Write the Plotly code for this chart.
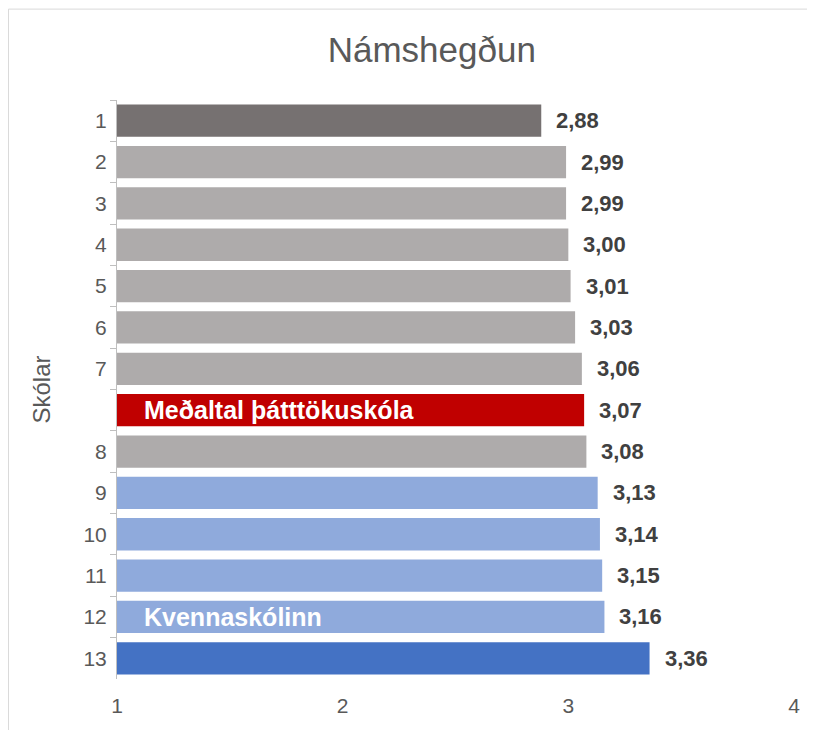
import plotly.graph_objects as go

categories = ["1", "2", "3", "4", "5", "6", "7", " ", "8", "9", "10", "11", "12", "13"]
values = [2.88, 2.99, 2.99, 3.00, 3.01, 3.03, 3.06, 3.07, 3.08, 3.13, 3.14, 3.15, 3.16, 3.36]
colors = ["#767171"] + ["#AEABAB"] * 6 + ["#C00000", "#AEABAB"] + ["#8FAADC"] * 4 + ["#4472C4"]
inner_labels = {7: "Meðaltal þátttökuskóla", 12: "Kvennaskólinn"}
x_ticks = [1, 2, 3, 4]

fig = go.Figure()
fig.add_trace(go.Bar(
    y=categories, x=values, orientation="h",
    marker=dict(color=colors, line=dict(width=0)),
    width=0.78, hoverinfo="skip",
))

font_family = "Liberation Sans, Arial, sans-serif"
ann = []
for i, v in enumerate(values):
    ann.append(dict(x=v, y=i, xref="x", yref="y", text="<b>" + f"{v:.2f}".replace(".", ",") + "</b>",
                    showarrow=False, xanchor="left", xshift=13,
                    font=dict(family=font_family, size=22, color="#404040")))
for i, t in inner_labels.items():
    ann.append(dict(x=1, y=i, xref="x", yref="y", text=f"<b>{t}</b>",
                    showarrow=False, xanchor="left", xshift=25,
                    font=dict(family=font_family, size=25, color="#FFFFFF")))

fig.update_layout(
    width=815, height=730,
    margin=dict(l=109, r=29, t=92, b=59, autoexpand=False),
    paper_bgcolor="white", plot_bgcolor="white",
    title=dict(text="Námshegðun", x=0.52, xanchor="center", y=0.943, yanchor="middle",
               font=dict(family=font_family, size=35, color="#595959")),
    showlegend=False,
    annotations=ann,
    shapes=[dict(type="rect", xref="paper", yref="paper", x0=-0.1603, x1=1.06, y0=-0.12, y1=1.157,
                 line=dict(color="#D9D9D9", width=1), fillcolor="rgba(0,0,0,0)", layer="below")],
    xaxis=dict(range=[1, 4], tickvals=x_ticks, ticktext=[str(t) for t in x_ticks],
               showgrid=False, zeroline=False, showline=False, ticks="", automargin=False,
               ticklabelstandoff=12,
               tickfont=dict(family=font_family, size=21, color="#595959")),
    yaxis=dict(categoryorder="array", categoryarray=categories, autorange="reversed",
               showgrid=False, zeroline=False, showline=True, linecolor="#BFBFBF", linewidth=1,
               ticks="outside", ticklen=6, tickcolor="#BFBFBF", tickson="boundaries",
               automargin=False, ticklabelstandoff=5,
               tickfont=dict(family=font_family, size=21, color="#595959"),
               title=dict(text="Skólar", standoff=26,
                          font=dict(family=font_family, size=24, color="#595959"))),
    bargap=0.22,
)

fig.write_html("out.html")
